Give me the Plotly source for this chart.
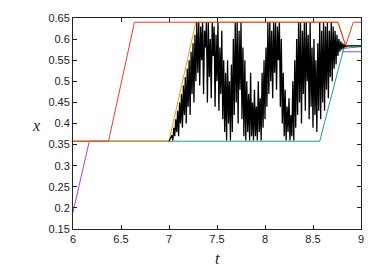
import plotly.graph_objects as go

# ---- data ----
purple_t = [6.0, 6.17, 7.0, None, 8.80, 9.0]
purple_x = [0.19, 0.358, 0.358, None, 0.570, 0.570]

teal_t = [6.0, 8.57, 8.82, 9.0]
teal_x = [0.358, 0.358, 0.578, 0.582]

orange_t = [6.0, 7.0, 7.28, 8.76, 8.84, 9.0]
orange_x = [0.358, 0.358, 0.640, 0.640, 0.584, 0.584]

red_t = [6.0, 6.37, 6.64, 8.76, 8.84, 8.92, 9.0]
red_x = [0.358, 0.358, 0.640, 0.640, 0.585, 0.640, 0.640]

black_t0 = 7.0
black_dt = 0.01
black_x = [
    0.358, 0.362, 0.365, 0.372, 0.360, 0.390, 0.370, 0.410, 0.380, 0.430,
    0.370, 0.450, 0.400, 0.470, 0.390, 0.490, 0.420, 0.510, 0.400, 0.530,
    0.440, 0.550, 0.420, 0.570, 0.470, 0.590, 0.450, 0.610, 0.500, 0.640,
    0.520, 0.640, 0.490, 0.630, 0.550, 0.640, 0.470, 0.620, 0.580, 0.640,
    0.450, 0.640, 0.510, 0.600, 0.460, 0.640, 0.560, 0.630, 0.440, 0.610,
    0.500, 0.640, 0.430, 0.580, 0.470, 0.620, 0.410, 0.550, 0.380, 0.520,
    0.360, 0.550, 0.400, 0.500, 0.360, 0.540, 0.380, 0.600, 0.420, 0.640,
    0.450, 0.640, 0.400, 0.620, 0.480, 0.640, 0.410, 0.580, 0.370, 0.550,
    0.360, 0.500, 0.380, 0.470, 0.360, 0.520, 0.370, 0.450, 0.360, 0.480,
    0.370, 0.440, 0.360, 0.500, 0.380, 0.460, 0.360, 0.520, 0.390, 0.550,
    0.410, 0.580, 0.440, 0.640, 0.470, 0.640, 0.500, 0.620, 0.460, 0.640,
    0.520, 0.640, 0.480, 0.630, 0.550, 0.640, 0.440, 0.600, 0.400, 0.520,
    0.370, 0.480, 0.360, 0.440, 0.380, 0.460, 0.360, 0.420, 0.370, 0.500,
    0.360, 0.550, 0.390, 0.600, 0.420, 0.640, 0.450, 0.640, 0.400, 0.620,
    0.470, 0.640, 0.430, 0.640, 0.500, 0.610, 0.410, 0.640, 0.440, 0.580,
    0.390, 0.600, 0.420, 0.550, 0.380, 0.590, 0.430, 0.640, 0.410, 0.620,
    0.450, 0.640, 0.430, 0.630, 0.480, 0.640, 0.460, 0.620, 0.510, 0.640,
    0.500, 0.630, 0.530, 0.620, 0.540, 0.610, 0.560, 0.600, 0.570, 0.595,
    0.575, 0.590, 0.578, 0.587, 0.581, 0.584,
]
black_tail_t = [8.9, 9.0]
black_tail_x = [0.584, 0.584]

x_ticks = [6, 6.5, 7, 7.5, 8, 8.5, 9]
x_labels = ["6", "6.5", "7", "7.5", "8", "8.5", "9"]
y_ticks = [0.15, 0.2, 0.25, 0.3, 0.35, 0.4, 0.45, 0.5, 0.55, 0.6, 0.65]
y_labels = ["0.15", "0.2", "0.25", "0.3", "0.35", "0.4", "0.45", "0.5", "0.55", "0.6", "0.65"]

black_t = [round(black_t0 + i * black_dt, 4) for i in range(len(black_x))] + black_tail_t
black_all = black_x + black_tail_x

fig = go.Figure()
fig.add_trace(go.Scatter(x=purple_t, y=purple_x, mode="lines", connectgaps=False,
                         line=dict(color="#a040f0", width=1)))
fig.add_trace(go.Scatter(x=teal_t, y=teal_x, mode="lines",
                         line=dict(color="#1a9c95", width=1)))
fig.add_trace(go.Scatter(x=orange_t, y=orange_x, mode="lines",
                         line=dict(color="#e6a000", width=1)))
fig.add_trace(go.Scatter(x=black_t, y=black_all, mode="lines",
                         line=dict(color="black", width=1.3)))
fig.add_trace(go.Scatter(x=red_t, y=red_x, mode="lines",
                         line=dict(color="#f03a2a", width=1)))

axis_common = dict(
    showgrid=False, zeroline=False, ticks="inside", ticklen=4,
    tickcolor="#222", showline=True, linecolor="#222", linewidth=1,
    mirror="ticks", ticklabeloverflow="allow",
    tickfont=dict(family="Liberation Sans", size=11, color="#222"),
)
fig.update_xaxes(range=[6, 9], tickvals=x_ticks, ticktext=x_labels, **axis_common)
fig.update_yaxes(range=[0.15, 0.65], tickvals=y_ticks, ticktext=y_labels, **axis_common)

fig.add_annotation(text="<i>x</i>", xref="paper", yref="paper", x=-0.149, y=0.49,
                   showarrow=False, font=dict(family="Liberation Serif", size=16, color="#222"))
fig.add_annotation(text="<i>t</i>", xref="paper", yref="paper", x=0.5, y=-0.138,
                   yanchor="middle", showarrow=False,
                   font=dict(family="Liberation Serif", size=16, color="#222"))

fig.update_layout(
    width=382, height=267, showlegend=False,
    margin=dict(l=73, r=21, t=12, b=38),
    plot_bgcolor="white", paper_bgcolor="white",
)

fig.write_html("out.html",
               config={"displayModeBar": False, "staticPlot": True},
               post_script="document.body.style.margin='0px';document.body.style.overflow='hidden';")
